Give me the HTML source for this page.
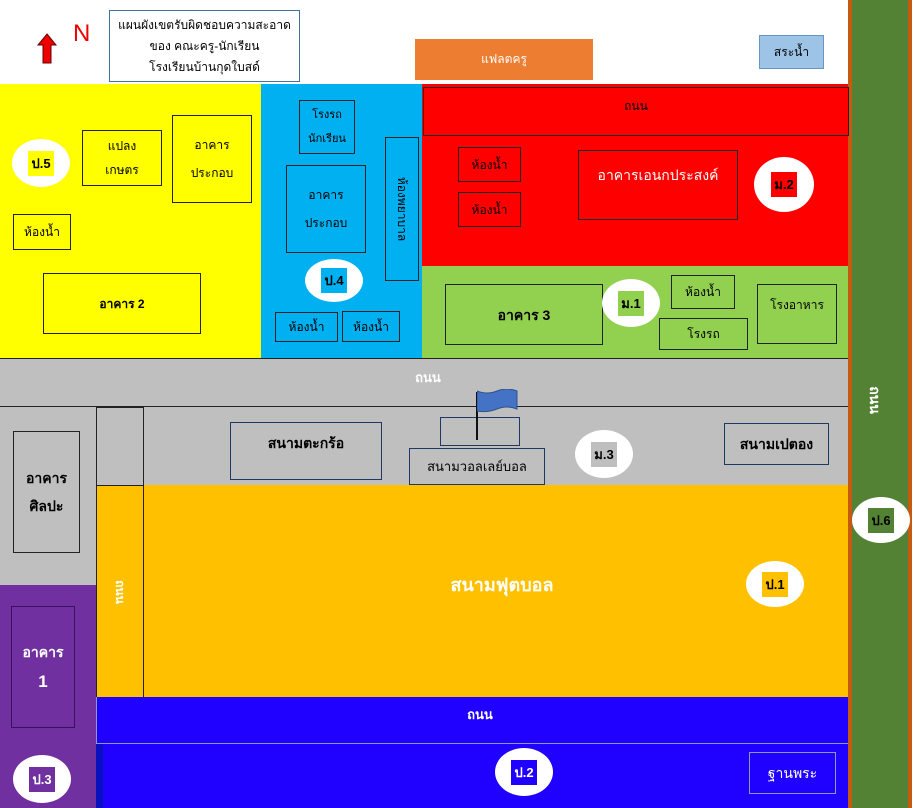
<!DOCTYPE html>
<html><head><meta charset="utf-8"><style>
body{margin:0;width:918px;height:808px;position:relative;overflow:hidden;background:#fff;font-family:"Liberation Sans","Noto Sans CJK SC","WenQuanYi Zen Hei",sans-serif;font-size:12px;color:#000}
div{position:absolute;box-sizing:border-box}
.b{border:1px solid #222;display:flex;align-items:center;justify-content:center;text-align:center;line-height:24px}
.e{background:#fff;border-radius:50%;display:flex;align-items:center;justify-content:center}
.e span{padding:2px 3px;font-weight:bold;font-size:13px}
.c{display:flex;align-items:center;justify-content:center}
</style></head><body>
<!-- top -->
<div style="left:109px;top:10px;width:191px;height:72px;border:1px solid #41719c;text-align:center;font-size:12px;line-height:21px;padding-top:4px">แผนผังเขตรับผิดชอบความสะอาด<br>ของ คณะครู-นักเรียน<br>โรงเรียนบ้านกุดใบสด์</div>
<svg style="position:absolute;left:36px;top:33px" width="22" height="32"><polygon points="11,1 20,12 15,12 15,30 7,30 7,12 2,12" fill="#e00" stroke="#600" stroke-width="1"/></svg>
<div style="left:73px;top:20px;color:#e00;font-size:24px">N</div>
<div class="c" style="left:415px;top:39px;width:178px;height:41px;background:#ed7d31;color:#fff">แฟลตครู</div>
<div class="c" style="left:759px;top:35px;width:65px;height:34px;background:#9dc3e6;border:1px solid #6b95c0">สระน้ำ</div>
<!-- right strip -->
<div style="left:848px;top:0;width:64px;height:808px;background:#c55a11"></div>
<div style="left:852px;top:0;width:56px;height:808px;background:#548235"></div>
<div class="c" style="left:852px;top:385px;width:44px;height:30px;color:#fff;font-weight:bold;font-size:14px;transform:rotate(90deg)">ถนน</div>
<div class="e" style="left:852px;top:497px;width:58px;height:46px"><span style="background:#548235">ป.6</span></div>
<!-- yellow -->
<div style="left:0;top:84px;width:261px;height:274px;background:#ff0"></div>
<div class="e" style="left:12px;top:139px;width:58px;height:48px"><span style="background:#ff0">ป.5</span></div>
<div class="b" style="left:82px;top:130px;width:80px;height:56px;flex-direction:column">แปลง<br>เกษตร</div>
<div class="b" style="left:172px;top:115px;width:80px;height:88px;flex-direction:column;line-height:28px">อาคาร<br>ประกอบ</div>
<div class="b" style="left:13px;top:214px;width:58px;height:36px">ห้องน้ำ</div>
<div class="b" style="left:43px;top:273px;width:158px;height:61px;font-weight:bold">อาคาร 2</div>
<!-- cyan -->
<div style="left:261px;top:84px;width:162px;height:274px;background:#00b0f0"></div>
<div class="b" style="left:299px;top:100px;width:56px;height:54px;font-size:11px;flex-direction:column">โรงรถ<br>นักเรียน</div>
<div class="b" style="left:286px;top:165px;width:80px;height:88px;flex-direction:column;line-height:28px">อาคาร<br>ประกอบ</div>
<div class="b" style="left:385px;top:137px;width:34px;height:144px"><span style="transform:rotate(90deg);white-space:nowrap">ห้องพยาบาล</span></div>
<div class="e" style="left:305px;top:259px;width:58px;height:43px"><span style="background:#00b0f0">ป.4</span></div>
<div class="b" style="left:275px;top:312px;width:63px;height:30px">ห้องน้ำ</div>
<div class="b" style="left:342px;top:311px;width:58px;height:31px">ห้องน้ำ</div>
<!-- red -->
<div style="left:422px;top:84px;width:426px;height:182px;background:#f00"></div>
<div class="b" style="left:423px;top:87px;width:426px;height:49px;align-items:flex-start;padding-top:6px">ถนน</div>
<div class="b" style="left:458px;top:147px;width:63px;height:35px">ห้องน้ำ</div>
<div class="b" style="left:458px;top:192px;width:63px;height:35px">ห้องน้ำ</div>
<div class="b" style="left:578px;top:150px;width:160px;height:70px;color:#fff;font-size:14px;align-items:flex-start;padding-top:12px">อาคารเอนกประสงค์</div>
<div class="e" style="left:754px;top:157px;width:60px;height:55px"><span style="background:#f00">ม.2</span></div>
<!-- green -->
<div style="left:422px;top:266px;width:426px;height:92px;background:#92d050"></div>
<div class="b" style="left:445px;top:284px;width:158px;height:61px;font-weight:bold;font-size:14px">อาคาร 3</div>
<div class="e" style="left:602px;top:279px;width:58px;height:48px"><span style="background:#92d050">ม.1</span></div>
<div class="b" style="left:671px;top:275px;width:64px;height:34px">ห้องน้ำ</div>
<div class="b" style="left:659px;top:318px;width:89px;height:32px">โรงรถ</div>
<div class="b" style="left:757px;top:284px;width:80px;height:60px;align-items:flex-start;padding-top:8px">โรงอาหาร</div>
<!-- gray -->
<div style="left:0;top:358px;width:848px;height:227px;background:#bfbfbf;border-top:1px solid #222"></div>
<div class="c" style="left:380px;top:366px;width:96px;height:22px;color:#fff;font-weight:bold;font-size:13px">ถนน</div>
<div style="left:0;top:406px;width:848px;height:1px;background:#222"></div>
<div class="b" style="left:96px;top:407px;width:48px;height:79px"></div>
<div class="b" style="left:13px;top:431px;width:67px;height:122px;flex-direction:column;font-weight:bold;font-size:14px;line-height:28px">อาคาร<br>ศิลปะ</div>
<div class="b" style="left:230px;top:422px;width:152px;height:58px;border-color:#203864;font-weight:bold;font-size:14px;align-items:flex-start;padding-top:8px">สนามตะกร้อ</div>
<div class="b" style="left:440px;top:417px;width:80px;height:29px;border-color:#203864"></div>
<div style="left:476px;top:392px;width:2px;height:48px;background:#111"></div>
<svg style="position:absolute;left:477px;top:389px" width="42" height="26"><path d="M0,2 Q10,6 20,2 T40,2 L40,20 Q30,16 20,20 T0,22 Z" fill="#4472c4" stroke="#2f528f"/></svg>
<div class="b" style="left:409px;top:448px;width:136px;height:37px;border-color:#203864;font-size:13px">สนามวอลเลย์บอล</div>
<div class="e" style="left:575px;top:430px;width:58px;height:48px"><span style="background:#bfbfbf">ม.3</span></div>
<div class="b" style="left:724px;top:423px;width:105px;height:42px;border-color:#203864;font-weight:bold;font-size:14px">สนามเปตอง</div>
<!-- field -->
<div style="left:96px;top:485px;width:752px;height:212px;background:#ffc000"></div>
<div class="b" style="left:96px;top:485px;width:48px;height:213px;color:#fff;font-weight:bold"><span style="transform:rotate(90deg)">ถนน</span></div>
<div class="c" style="left:400px;top:570px;width:204px;height:28px;color:#fff;font-weight:bold;font-size:18px">สนามฟุตบอล</div>
<div class="e" style="left:746px;top:561px;width:58px;height:46px"><span style="background:#ffc000">ป.1</span></div>
<!-- purple -->
<div style="left:0;top:585px;width:96px;height:223px;background:#7030a0"></div>
<div class="b" style="left:11px;top:606px;width:64px;height:122px;border-color:#3a1060;color:#fff;font-weight:bold;font-size:14px;flex-direction:column;line-height:30px">อาคาร<br><span style="font-size:17px">1</span></div>
<div class="e" style="left:13px;top:755px;width:58px;height:48px"><span style="background:#7030a0;color:#fff">ป.3</span></div>
<!-- blue -->
<div style="left:96px;top:697px;width:752px;height:111px;background:#2000ff"></div>
<div style="left:96px;top:743px;width:752px;height:1px;background:#8a9ad0"></div>
<div style="left:96px;top:697px;width:1px;height:47px;background:#8a9ad0"></div>
<div style="left:96px;top:744px;width:7px;height:64px;background:#0a10c0"></div>
<div class="c" style="left:440px;top:703px;width:80px;height:22px;color:#fff;font-weight:bold;font-size:13px">ถนน</div>
<div class="e" style="left:495px;top:748px;width:58px;height:48px"><span style="background:#2000ff;color:#fff">ป.2</span></div>
<div class="b" style="left:749px;top:752px;width:87px;height:42px;border-color:#8a9ad0;color:#fff;font-size:14px">ฐานพระ</div>
</body></html>
